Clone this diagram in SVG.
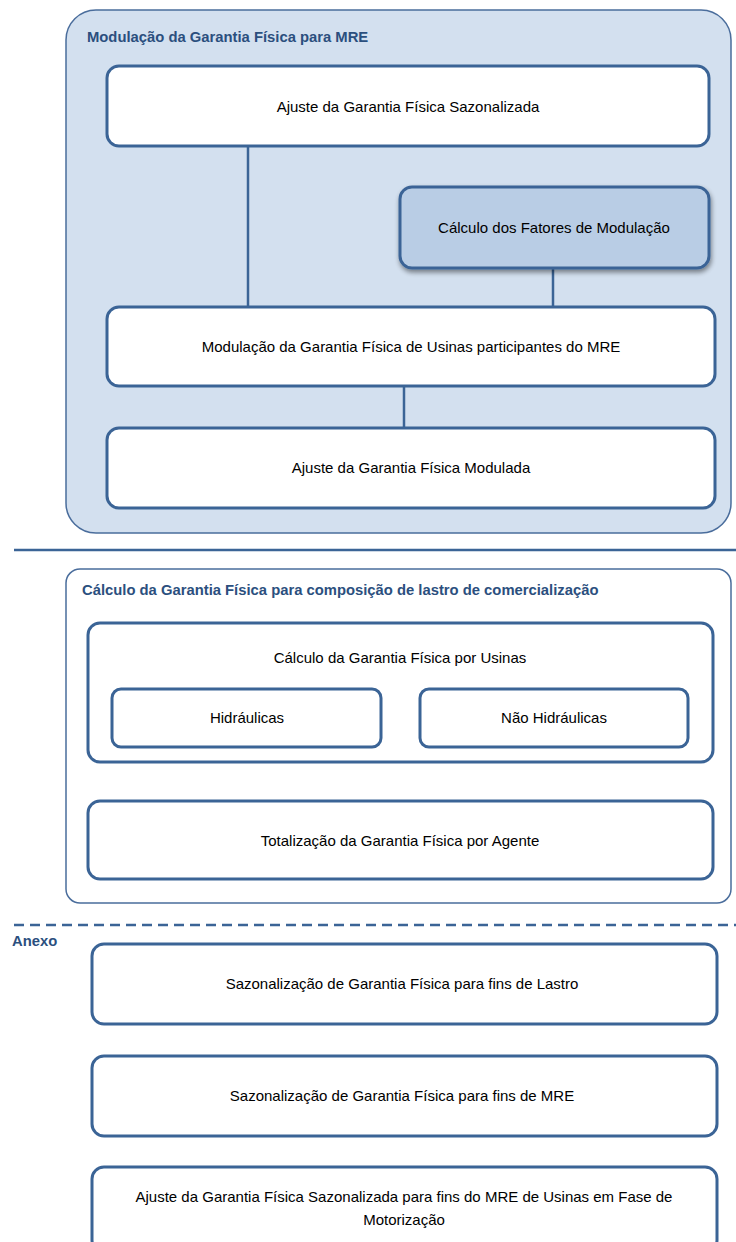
<svg xmlns="http://www.w3.org/2000/svg" width="736" height="1242" viewBox="0 0 736 1242">
<style>
.bg{fill:#ffffff}
.node{fill:#ffffff;stroke:#3b6496;stroke-width:3}
.hl{fill:#b9cde5;stroke:#3b6496;stroke-width:3}
.t{font-family:"Liberation Sans",Arial,sans-serif;font-size:15px;fill:#000;text-anchor:middle;dominant-baseline:central}
.h{font-family:"Liberation Sans",Arial,sans-serif;font-size:14.8px;font-weight:bold;fill:#2b4f7e}
.c{stroke:#3b6496;stroke-width:2.5;fill:none}
</style>
<defs>
<filter id="sh" x="-10%" y="-10%" width="125%" height="135%">
<feGaussianBlur in="SourceAlpha" stdDeviation="2.5"/>
<feOffset dx="1" dy="3" result="b"/>
<feComponentTransfer><feFuncA type="linear" slope="0.45"/></feComponentTransfer>
<feMerge><feMergeNode/><feMergeNode in="SourceGraphic"/></feMerge>
</filter>
</defs>
<rect class="bg" x="0" y="0" width="736" height="1242"/>

<g id="section-mre">
<rect x="66" y="10" width="665" height="523" rx="30" fill="#d3e0ef" stroke="#4a6d9c" stroke-width="1.5"/>
<text class="h" x="87" y="37" dominant-baseline="central">Modulação da Garantia Física para MRE</text>
</g>

<g id="connectors">
<line class="c" x1="248" y1="146" x2="248" y2="307"/>
<line class="c" x1="553" y1="268" x2="553" y2="307"/>
<line class="c" x1="404" y1="386" x2="404" y2="428"/>
<line class="c" x1="400" y1="762" x2="400" y2="801"/>
</g>

<g id="n-ajuste-sazonalizada">
<rect class="node" x="107" y="66" width="602" height="80" rx="12"/>
<text class="t" x="408" y="106">Ajuste da Garantia Física Sazonalizada</text>
</g>

<g id="n-fatores-modulacao">
<rect class="hl" x="400" y="187" width="309" height="81" rx="12" filter="url(#sh)"/>
<text class="t" x="554" y="227">Cálculo dos Fatores de Modulação</text>
</g>

<g id="n-modulacao-usinas">
<rect class="node" x="107" y="307" width="608" height="79" rx="12"/>
<text class="t" x="411" y="346">Modulação da Garantia Física de Usinas participantes do MRE</text>
</g>

<g id="n-ajuste-modulada">
<rect class="node" x="107" y="428" width="608" height="80" rx="12"/>
<text class="t" x="411" y="467">Ajuste da Garantia Física Modulada</text>
</g>

<g id="divider-solid">
<line x1="14" y1="550" x2="736" y2="550" stroke="#3b6496" stroke-width="2.5"/>
</g>

<g id="section-lastro">
<rect x="66" y="569" width="665" height="334" rx="14" fill="#ffffff" stroke="#4a6d9c" stroke-width="1.5"/>
<text class="h" x="82" y="590" dominant-baseline="central">Cálculo da Garantia Física para composição de lastro de comercialização</text>
</g>

<g id="n-calculo-usinas">
<rect class="node" x="88" y="623" width="625" height="139" rx="12"/>
<text class="t" x="400" y="657">Cálculo da Garantia Física por Usinas</text>
</g>

<g id="n-hidraulicas">
<rect class="node" x="112" y="689" width="269" height="58" rx="9"/>
<text class="t" x="247" y="717">Hidráulicas</text>
</g>

<g id="n-nao-hidraulicas">
<rect class="node" x="420" y="689" width="268" height="58" rx="9"/>
<text class="t" x="554" y="717">Não Hidráulicas</text>
</g>

<g id="n-totalizacao">
<rect class="node" x="88" y="801" width="625" height="78" rx="12"/>
<text class="t" x="400" y="840">Totalização da Garantia Física por Agente</text>
</g>

<g id="divider-dashed">
<line x1="14" y1="925" x2="736" y2="925" stroke="#3b6496" stroke-width="2.5" stroke-dasharray="10 6"/>
<text class="h" x="12" y="941" dominant-baseline="central">Anexo</text>
</g>

<g id="n-sazonalizacao-lastro">
<rect class="node" x="92" y="944" width="625" height="80" rx="12"/>
<text class="t" x="402" y="983">Sazonalização de Garantia Física para fins de Lastro</text>
</g>

<g id="n-sazonalizacao-mre">
<rect class="node" x="92" y="1056" width="625" height="80" rx="12"/>
<text class="t" x="402" y="1095">Sazonalização de Garantia Física para fins de MRE</text>
</g>

<g id="n-ajuste-motorizacao">
<rect class="node" x="92" y="1167" width="625" height="85" rx="12"/>
<text class="t" x="404" y="1196">Ajuste da Garantia Física Sazonalizada para fins do MRE de Usinas em Fase de</text>
<text class="t" x="404" y="1219">Motorização</text>
</g>
</svg>
